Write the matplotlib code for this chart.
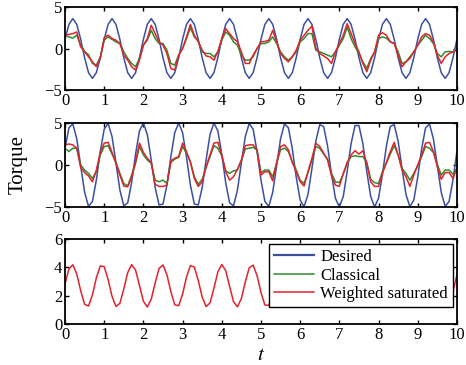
import numpy as np
import matplotlib
matplotlib.use("Agg")
import matplotlib.pyplot as plt

plt.rcParams['font.family'] = ['Liberation Serif', 'DejaVu Serif']
plt.rcParams['mathtext.fontset'] = 'stix'

# time grid (s), values read every 0.1 s
t = np.linspace(0, 10, 101)

# panel 1
desired_1 = [1.11, 2.91, 3.6, 2.91, 1.11, -1.11, -2.91, -3.6, -2.91, -1.11,
             1.11, 2.91, 3.6, 2.91, 1.11, -1.11, -2.91, -3.6, -2.91, -1.11,
             1.11, 2.91, 3.6, 2.91, 1.11, -1.11, -2.91, -3.6, -2.91, -1.11,
             1.11, 2.91, 3.6, 2.91, 1.11, -1.11, -2.91, -3.6, -2.91, -1.11,
             1.11, 2.91, 3.6, 2.91, 1.11, -1.11, -2.91, -3.6, -2.91, -1.11,
             1.11, 2.91, 3.6, 2.91, 1.11, -1.11, -2.91, -3.6, -2.91, -1.11,
             1.11, 2.91, 3.6, 2.91, 1.11, -1.11, -2.91, -3.6, -2.91, -1.11,
             1.11, 2.91, 3.6, 2.91, 1.11, -1.11, -2.91, -3.6, -2.91, -1.11,
             1.11, 2.91, 3.6, 2.91, 1.11, -1.11, -2.91, -3.6, -2.91, -1.11,
             1.11, 2.91, 3.6, 2.91, 1.11, -1.11, -2.91, -3.6, -2.91, -1.11,
             1.11]
classical_1 = [1.6, 1.4, 1.25, 1.6, 0.4, -0.35, -0.75, -1.8, -2.0, -1.0,
               1.0, 1.4, 1.1, 0.8, 0.6, -0.4, -1.2, -1.8, -2.2, -1.2,
               0.4, 1.0, 2.2, 1.2, 0.6, 0.6, -0.2, -1.8, -2.0, -0.8,
               0.0, 1.2, 2.5, 1.4, 0.9, -0.4, -0.6, -0.6, -1.0, -0.4,
               1.0, 2.0, 1.6, 0.8, 0.4, -0.8, -1.4, -1.4, -1.0, 0.0,
               0.6, 0.6, 0.8, 1.4, 0.6, -0.4, -1.0, -1.4, -1.0, -0.4,
               0.8, 1.2, 1.8, 1.8, -0.2, -0.4, -0.6, -0.8, -1.0, -0.4,
               0.4, 1.2, 2.6, 1.2, 0.2, -0.6, -1.6, -2.4, -1.2, -0.4,
               1.2, 1.4, 1.25, 0.8, 0.6, -0.4, -1.8, -1.6, -1.0, -0.4,
               0.4, 1.0, 1.6, 1.2, 0.6, -0.6, -1.0, -0.4, -0.35, -0.4,
               0.0]
weighted_1 = [1.6, 1.7, 1.8, 2.0, 0.2, -0.4, -1.0, -1.6, -2.2, -1.2,
              1.3, 1.6, 1.2, 1.0, 0.6, -0.8, -1.4, -2.2, -2.6, -1.4,
              0.4, 1.2, 2.8, 1.8, 0.8, 0.4, -0.6, -2.4, -2.6, -0.8,
              0.0, 1.4, 2.9, 1.6, 0.8, -0.2, -0.9, -1.0, -1.4, -0.4,
              1.2, 2.4, 1.8, 1.2, 0.8, -0.4, -1.8, -1.8, -0.8, 0.0,
              0.8, 0.85, 1.0, 2.2, 0.8, -0.6, -1.2, -1.6, -1.0, -0.2,
              1.0, 1.6, 2.2, 2.7, 0.0, -0.6, -0.9, -1.2, -1.8, -0.4,
              0.6, 1.6, 3.0, 1.8, 0.6, -0.4, -1.8, -2.8, -1.4, -0.4,
              1.6, 1.9, 1.6, 0.8, 0.6, -0.8, -2.2, -1.6, -1.2, -0.4,
              0.4, 1.4, 1.8, 1.6, 0.8, -0.8, -1.8, -1.0, -0.6, -0.4,
              -0.2]

# panel 2
desired_2 = [1.93, 4.43, 4.89, 3.12, -0.09, -3.25, -4.93, -4.34, -1.78, 1.61,
             4.26, 4.95, 3.38, 0.26, -2.98, -4.86, -4.51, -2.09, 1.28, 4.07,
             4.99, 3.63, 0.60, -2.69, -4.76, -4.65, -2.40, 0.95, 3.85, 5.0,
             3.86, 0.95, -2.40, -4.64, -4.76, -2.69, 0.60, 3.63, 4.99, 4.07,
             1.28, -2.09, -4.51, -4.86, -2.98, 0.26, 3.38, 4.95, 4.26, 1.61,
             -1.78, -4.34, -4.93, -3.25, -0.09, 3.12, 4.89, 4.43, 1.93, -1.45,
             -4.17, -4.97, -3.50, -0.43, 2.84, 4.81, 4.58, 2.25, -1.11, -3.96,
             -5.0, -3.75, -0.77, 2.55, 4.70, 4.70, 2.55, -0.77, -3.75, -5.0,
             -3.96, -1.11, 2.25, 4.58, 4.81, 2.84, -0.43, -3.50, -4.97, -4.17,
             -1.45, 1.93, 4.43, 4.89, 3.12, -0.09, -3.25, -4.93, -4.34, -1.78,
             1.61]
classical_2 = [2.0, 1.6, 2.0, 2.0, 0.0, -0.6, -1.0, -1.6, -0.8, 1.2,
               2.2, 2.3, 1.3, 0.3, -1.0, -2.2, -2.5, -1.2, 0.2, 2.2,
               1.2, 0.6, 0.2, -1.8, -2.0, -1.8, -2.2, 0.3, 0.7, 0.9,
               2.2, 1.4, 0.4, -1.4, -2.3, -1.7, -0.3, 1.0, 2.3, 2.0,
               1.1, -0.7, -1.0, -0.7, -0.6, 0.5, 1.9, 2.0, 2.1, 1.8,
               -0.9, -0.6, -0.6, -1.4, 0.2, 1.8, 2.0, 1.6, 0.4, -0.6,
               -1.8, -2.2, -0.9, 0.6, 2.2, 2.0, 1.3, 0.7, -1.0, -2.0,
               -2.1, -1.1, 0.2, 1.0, 1.1, 1.0, 1.0, 0.3, -1.7, -2.1,
               -2.2, -0.8, 0.2, 1.3, 2.3, 1.2, -0.4, -1.0, -1.8, -1.0,
               -0.1, 1.0, 2.2, 2.0, 1.5, 0.1, -1.2, -0.6, -0.6, -1.1,
               -0.4]
weighted_2 = [2.4, 2.5, 2.4, 2.0, -0.3, -0.9, -1.3, -2.0, -0.6, 1.5,
              2.6, 2.7, 1.5, 0.2, -1.2, -2.5, -2.6, -1.5, 0.4, 2.6,
              1.5, 0.8, 0.3, -2.3, -2.55, -2.55, -2.4, 0.5, 0.8, 1.0,
              2.6, 1.6, 0.3, -1.6, -2.55, -2.0, -0.2, 1.2, 2.6, 2.7,
              1.2, -0.8, -1.8, -1.4, -0.5, 0.6, 2.3, 2.4, 2.4, 1.8,
              -1.2, -0.8, -0.8, -1.9, 0.3, 2.2, 2.4, 1.8, 0.3, -0.8,
              -2.0, -2.5, -0.8, 0.8, 2.6, 2.2, 1.4, 0.6, -1.3, -2.4,
              -2.55, -1.0, 0.3, 1.2, 1.7, 1.3, 1.7, 0.2, -2.0, -2.55,
              -2.55, -1.0, 0.3, 1.6, 2.7, 1.2, -0.6, -1.4, -2.55, -1.2,
              0.0, 1.2, 2.6, 2.7, 1.6, -0.2, -1.7, -0.9, -0.9, -1.6,
              -0.4]

# panel 3 (all three curves overlap, red on top)
weighted_3 = [2.84, 3.89, 4.18, 3.53, 2.35, 1.39, 1.27, 2.06, 3.26, 4.10,
              4.05, 3.14, 1.95, 1.24, 1.46, 2.47, 3.63, 4.19, 3.81, 2.72,
              1.61, 1.20, 1.75, 2.90, 3.92, 4.17, 3.48, 2.29, 1.36, 1.29,
              2.11, 3.31, 4.12, 4.02, 3.08, 1.90, 1.23, 1.49, 2.53, 3.67,
              4.20, 3.77, 2.66, 1.57, 1.21, 1.80, 2.96, 3.96, 4.16, 3.42,
              2.23, 1.34, 1.31, 2.17, 3.37, 4.14, 3.99, 3.02, 1.85, 1.22,
              1.53, 2.59, 3.72, 4.20, 3.72, 2.60, 1.53, 1.22, 1.84, 3.02,
              3.99, 4.14, 3.37, 2.18, 1.31, 1.34, 2.23, 3.42, 4.15, 3.96,
              2.97, 1.80, 1.21, 1.57, 2.65, 3.76, 4.20, 3.68, 2.54, 1.50,
              1.22, 1.89, 3.08, 4.02, 4.12, 3.32, 2.12, 1.29, 1.36, 2.28,
              3.47]

labels = ['Desired', 'Classical', 'Weighted saturated']
c_blue = '#3b50a0'
c_green = '#2e8b2e'
c_red = '#e3232c'

fig = plt.figure(figsize=(4.66, 3.65), dpi=100)
left, width = 0.1395, 0.841
ax1 = fig.add_axes([left, 0.7534, width, 0.2274])
ax2 = fig.add_axes([left, 0.4329, width, 0.2301])
ax3 = fig.add_axes([left, 0.1123, width, 0.2329])

ax1.plot(t, desired_1, color=c_blue, lw=1.1)
ax1.plot(t, classical_1, color=c_green, lw=1.1)
ax1.plot(t, weighted_1, color=c_red, lw=1.1)

ax2.plot(t, desired_2, color=c_blue, lw=1.1)
ax2.plot(t, classical_2, color=c_green, lw=1.1)
ax2.plot(t, weighted_2, color=c_red, lw=1.1)

l1, = ax3.plot([], [], color=c_blue, lw=1.6)
l2, = ax3.plot([], [], color=c_green, lw=1.1)
l3, = ax3.plot(t, weighted_3, color=c_red, lw=1.1)

for ax in (ax1, ax2):
    ax.set_ylim(-5, 5)
    ax.set_yticks([-5, 0, 5])
    ax.set_yticklabels(['\u22125', '0', '5'])
ax3.set_ylim(0, 6)
ax3.set_yticks([0, 2, 4, 6])

for ax in (ax1, ax2, ax3):
    ax.set_xlim(0, 10)
    ax.set_xticks(range(11))
    ax.tick_params(direction='in', top=True, right=True, length=3,
                   width=1, labelsize=12, pad=2)
    for s in ax.spines.values():
        s.set_linewidth(1.3)

fig.text(0.038, 0.548, 'Torque', rotation=90, ha='center', va='center',
         fontsize=15)
ax3.set_xlabel('$t$', fontsize=15, labelpad=2)

ax3.legend([l1, l2, l3], labels, loc='upper right',
           bbox_to_anchor=(0.99, 0.94), fontsize=12, frameon=True,
           fancybox=False, edgecolor='black', framealpha=1,
           handlelength=2.4, labelspacing=0.15, borderpad=0.3,
           handletextpad=0.4, borderaxespad=0)

fig.savefig('out.png', dpi=100)
